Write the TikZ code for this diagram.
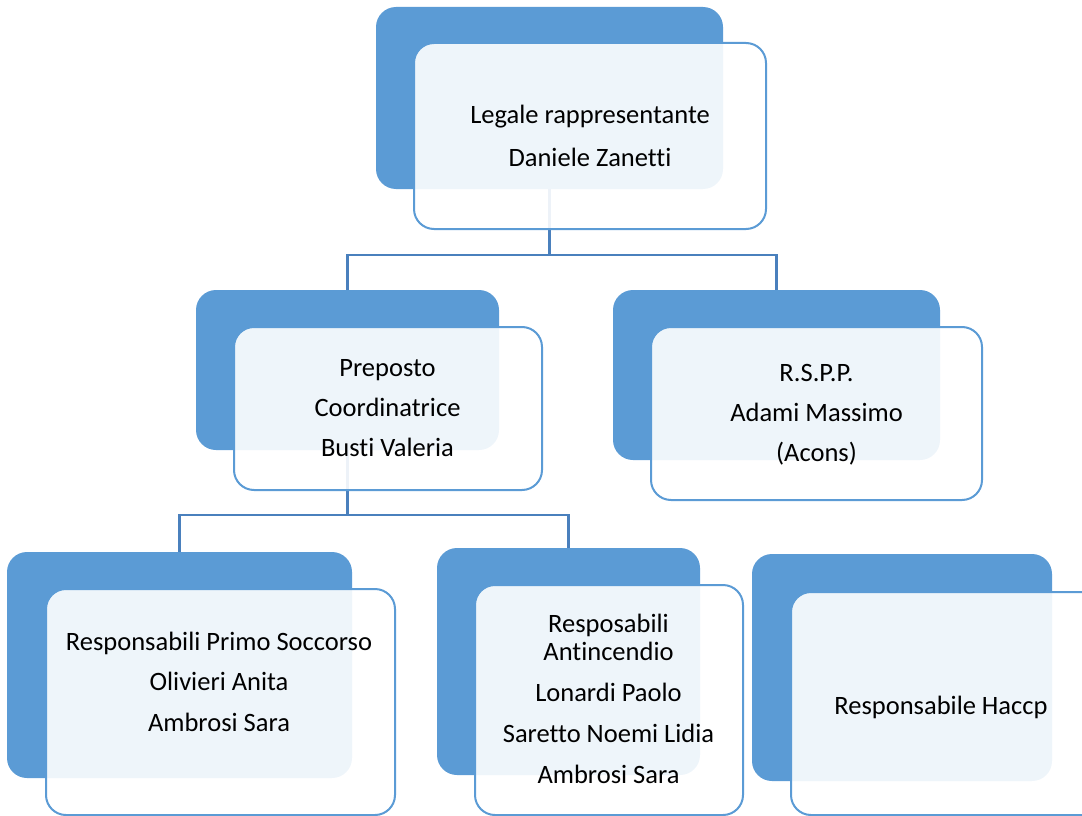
\documentclass[tikz,border=0pt]{standalone}
\usepackage{fontspec}
\setmainfont{Carlito}[Ligatures={NoCommon}]
\definecolor{boxblue}{RGB}{91,155,213}
\definecolor{linkblue}{RGB}{74,128,189}
\begin{document}
\begin{tikzpicture}[x=1pt,y=-1pt,
  backbox/.style={fill=boxblue, draw=none, rounded corners=20pt, anchor=north west, inner sep=0pt, outer sep=0pt},
  frontbox/.style={fill=white, fill opacity=0.9, draw=boxblue, line width=2pt, rounded corners=20pt, anchor=north west, inner sep=0pt, outer sep=0pt},
  link/.style={draw=linkblue, line width=2.5pt},
  lbl/.style={anchor=base, font=\fontsize{26.5}{30}\selectfont, inner sep=0pt, text=black}]
\useasboundingbox (0,0) rectangle (1082,816);
\clip (0,0) rectangle (1082,816);
% back boxes
\node[backbox, minimum width=347pt, minimum height=182pt] (b1) at (376,7) {};
\node[backbox, minimum width=303pt, minimum height=160pt] (b2) at (196,290) {};
\node[backbox, minimum width=327pt, minimum height=170pt] (b3) at (613,290) {};
\node[backbox, minimum width=345pt, minimum height=226pt] (b4) at (7,552) {};
\node[backbox, minimum width=263pt, minimum height=227pt] (b5) at (437,548) {};
\node[backbox, minimum width=300pt, minimum height=227pt] (b6) at (752,554) {};
% connectors
\coordinate (j1) at (550,255);
\coordinate (j2) at (348,515);
\draw[link] (b1.south) -- (b1.south |- j1) -| (b2.north);
\draw[link] (b1.south |- j1) -| (b3.north);
\draw[link] (b2.south) -- (b2.south |- j2) -| (b4.north);
\draw[link] (b2.south |- j2) -| (b5.north);
% front boxes
\node[frontbox, minimum width=352pt, minimum height=186pt] (f1) at (414,43) {};
\node[frontbox, minimum width=308pt, minimum height=163pt] (f2) at (234,327) {};
\node[frontbox, minimum width=331pt, minimum height=173pt] (f3) at (651,327) {};
\node[frontbox, minimum width=349pt, minimum height=226pt] (f4) at (46,589) {};
\node[frontbox, minimum width=268pt, minimum height=230pt] (f5) at (475,585) {};
\node[frontbox, minimum width=330pt, minimum height=223pt] (f6) at (791,592) {};
% texts
\node[lbl] (t1a) at (590,124) {Legale rappresentante};
\node[lbl] (t1b) at (590,166) {Daniele Zanetti};
\node[lbl] (t2a) at (387.5,376.5) {Preposto};
\node[lbl] (t2b) at (387.5,416.5) {Coordinatrice};
\node[lbl] (t2c) at (387.5,456.5) {Busti Valeria};
\node[lbl] (t3a) at (816.5,381) {R.S.P.P.};
\node[lbl] (t3b) at (816.5,421) {Adami Massimo};
\node[lbl] (t3c) at (816.5,461.5) {(Acons)};
\node[lbl] (t4a) at (219,650.5) {Responsabili Primo Soccorso};
\node[lbl] (t4b) at (219,690.5) {Olivieri Anita};
\node[lbl] (t4c) at (219,731.5) {Ambrosi Sara};
\node[lbl] (t5a) at (608.5,632.5) {Resposabili};
\node[lbl] (t5b) at (608.5,660) {Antincendio};
\node[lbl] (t5c) at (608.5,701.5) {Lonardi Paolo};
\node[lbl] (t5d) at (608.5,742.5) {Saretto Noemi Lidia};
\node[lbl] (t5e) at (608.5,783.5) {Ambrosi Sara};
\node[lbl] (t6a) at (941,714) {Responsabile Haccp};
\end{tikzpicture}
\end{document}
